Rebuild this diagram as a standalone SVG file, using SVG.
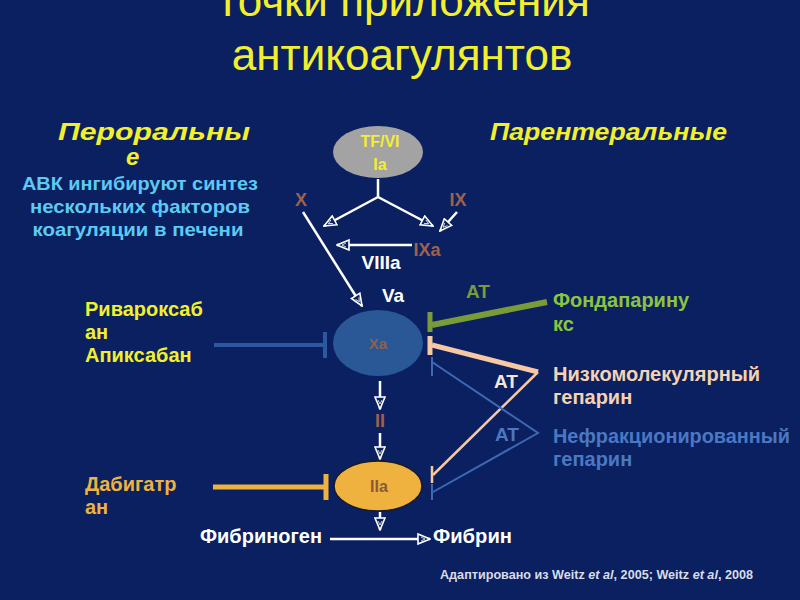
<svg xmlns="http://www.w3.org/2000/svg" width="800" height="600" viewBox="0 0 800 600">
<defs>
<style>
text{font-family:"Liberation Sans",Arial,sans-serif;font-weight:bold}
.title{font-weight:normal;font-size:44px;fill:#f2f02e;text-anchor:middle}
.hdr{font-style:italic;font-size:24px;fill:#f2f02e}
.cy{font-size:19px;fill:#5ccaf2;text-anchor:middle}
.br{font-size:18px;fill:#a0604e;text-anchor:middle}
.wh{font-size:19px;fill:#ffffff}
.lbl{font-size:20px}
.flow{stroke:#ffffff;stroke-width:2.5;fill:none;marker-end:url(#arr)}
</style>
<marker id="arr" viewBox="0 0 14 12" refX="13" refY="6" markerWidth="14" markerHeight="12" markerUnits="userSpaceOnUse" orient="auto">
<path d="M1,1 L13,6 L1,11 Z" fill="#0b2060" stroke="#ffffff" stroke-width="1.6"/>
<path d="M4,4 L8,6 L4,8" fill="none" stroke="#ffffff" stroke-width="0.8"/>
</marker>
</defs>
<rect width="800" height="600" fill="#0b2060"/>
<g id="title">
<text class="title" x="402" y="16">Точки приложения</text>
<text class="title" x="402" y="70">антикоагулянтов</text>
</g>
<g id="headers">
<text class="hdr" x="58" y="140" textLength="192" lengthAdjust="spacingAndGlyphs">Пероральны</text>
<text class="hdr" x="126" y="165" font-size="21">е</text>
<text class="hdr" x="490" y="140" textLength="237" lengthAdjust="spacingAndGlyphs">Парентеральные</text>
</g>
<g id="avk">
<text class="cy" x="140" y="190" textLength="236" lengthAdjust="spacingAndGlyphs">АВК ингибируют синтез</text>
<text class="cy" x="140" y="213" textLength="220" lengthAdjust="spacingAndGlyphs">нескольких факторов</text>
<text class="cy" x="138" y="236" textLength="211" lengthAdjust="spacingAndGlyphs">коагуляции в печени</text>
</g>
<g id="connectors">
<line class="flow" x1="378" y1="179" x2="378" y2="197" style="marker-end:none"/>
<line class="flow" x1="378" y1="197" x2="324" y2="226"/>
<line class="flow" x1="378" y1="197" x2="433" y2="226"/>
<line class="flow" x1="457" y1="212" x2="440" y2="231"/>
<line class="flow" x1="412" y1="245" x2="337" y2="245"/>
<line class="flow" x1="303" y1="212" x2="362" y2="306"/>
<line class="flow" x1="380" y1="381" x2="380" y2="409"/>
<line class="flow" x1="380" y1="433" x2="380" y2="459"/>
<line class="flow" x1="380" y1="512" x2="380" y2="530"/>
<line class="flow" x1="330" y1="539" x2="430" y2="539"/>
<g id="riva-inh" stroke="#2c58a0" fill="none">
<line x1="214" y1="345" x2="325" y2="345" stroke-width="4"/>
<line x1="325" y1="332" x2="325" y2="358" stroke-width="4"/>
</g>
<g id="dabi-inh" stroke="#eeb23e" fill="none">
<line x1="213" y1="487" x2="326" y2="487" stroke-width="5"/>
<line x1="326" y1="474" x2="326" y2="500" stroke-width="5"/>
</g>
<g id="fonda-inh" stroke="#7a9c38" fill="none">
<line x1="432" y1="325" x2="547" y2="302" stroke-width="6"/>
<line x1="430" y1="312" x2="430" y2="332" stroke-width="5"/>
</g>
<g id="lmwh-inh" stroke="#f6c9a2" fill="none">
<line x1="432" y1="345" x2="538" y2="372" stroke-width="5"/>
<line x1="430" y1="336" x2="430" y2="355" stroke-width="5"/>
<polyline points="538,372 433,475" stroke-width="2.5"/>
<line x1="432" y1="466" x2="432" y2="483" stroke-width="2.5"/>
</g>
<g id="ufh-inh" stroke="#3e68b2" fill="none" stroke-width="2">
<polyline points="432,362 538,433 433,492"/>
<line x1="432" y1="357" x2="432" y2="376"/>
<line x1="432" y1="484" x2="432" y2="500"/>
</g>
</g>
<g id="node-tf">
<ellipse cx="378" cy="152" rx="45" ry="26" fill="#a3a3a3"/>
<text x="380" y="147" fill="#f2f02e" text-anchor="middle" font-size="16">TF/VI</text>
<text x="380" y="170" fill="#f2f02e" text-anchor="middle" font-size="16">Ia</text>
</g>
<g id="node-x"><text class="br" x="301" y="206">X</text></g>
<g id="node-ix"><text class="br" x="458" y="206">IX</text></g>
<g id="node-ixa"><text class="br" x="427" y="256">IXa</text></g>
<g id="node-viiia"><text class="wh" x="381" y="269" text-anchor="middle">VIIIa</text></g>
<g id="node-va"><text class="wh" x="393" y="302" text-anchor="middle">Va</text></g>
<g id="node-xa">
<ellipse cx="378" cy="343" rx="45" ry="33" fill="#2a5796"/>
<text x="378" y="349" fill="#8a6250" text-anchor="middle" font-size="15">Xa</text>
</g>
<g id="node-ii"><text class="br" x="380" y="427" font-size="16">II</text></g>
<g id="node-iia">
<ellipse cx="378" cy="486" rx="44" ry="25" fill="#efb23e" stroke="#1a1a2a" stroke-width="1.5"/>
<text x="379" y="492" fill="#8a5a36" text-anchor="middle" font-size="16">IIa</text>
</g>
<g id="node-fibrinogen"><text class="lbl" x="200" y="543" fill="#ffffff" textLength="122" lengthAdjust="spacingAndGlyphs">Фибриноген</text></g>
<g id="node-fibrin"><text class="lbl" x="433" y="543" fill="#ffffff" textLength="79" lengthAdjust="spacingAndGlyphs">Фибрин</text></g>
<g id="labels-left">
<text class="lbl" x="85" y="316" fill="#f2f02e">Ривароксаб</text>
<text class="lbl" x="85" y="339" fill="#f2f02e">ан</text>
<text class="lbl" x="85" y="362" fill="#f2f02e">Апиксабан</text>
<text class="lbl" x="85" y="491" fill="#eeb23e">Дабигатр</text>
<text class="lbl" x="85" y="514" fill="#eeb23e">ан</text>
</g>
<g id="labels-right">
<text class="lbl" x="553" y="307" fill="#8cc440">Фондапарину</text>
<text class="lbl" x="553" y="331" fill="#8cc440">кс</text>
<text class="lbl" x="553" y="381" fill="#f6d2b2">Низкомолекулярный</text>
<text class="lbl" x="553" y="404" fill="#f6d2b2">гепарин</text>
<text class="lbl" x="553" y="443" fill="#4a78c2" textLength="237" lengthAdjust="spacingAndGlyphs">Нефракционированный</text>
<text class="lbl" x="553" y="466" fill="#4a78c2">гепарин</text>
<text x="478" y="298" fill="#7a9c38" text-anchor="middle" font-size="19">AT</text>
<text x="506" y="388" fill="#f6e6da" text-anchor="middle" font-size="19">AT</text>
<text x="507" y="441" fill="#4a78c2" text-anchor="middle" font-size="19" font-weight="normal">AT</text>
</g>
<g id="source">
<text x="440" y="579" fill="#d8dce8" font-size="12.5" font-weight="normal" textLength="313" lengthAdjust="spacingAndGlyphs">Адаптировано из Weitz <tspan font-style="italic">et al</tspan>, 2005; Weitz <tspan font-style="italic">et al</tspan>, 2008</text>
</g>
</svg>
